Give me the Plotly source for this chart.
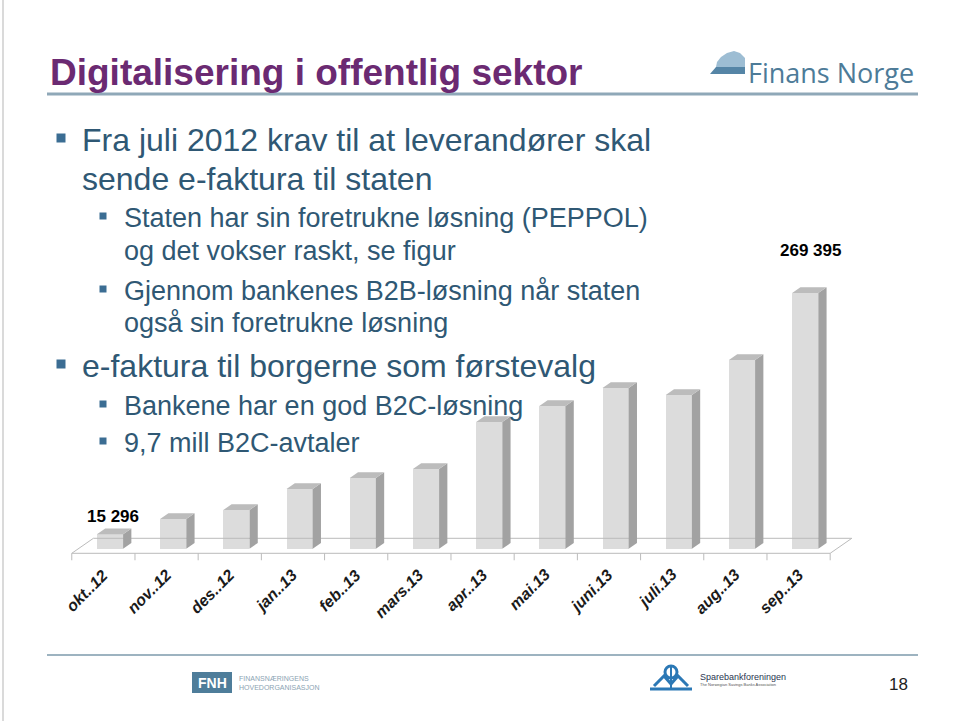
import plotly.graph_objects as go

# ---------------- data ----------------
months = ["okt..12", "nov..12", "des..12", "jan..13", "feb..13", "mars.13",
          "apr..13", "mai.13", "juni.13", "juli.13", "aug..13", "sep..13"]
invoices = [15296, 31300, 40800, 62900, 74500, 84000,
            133500, 150300, 169300, 161900, 198800, 269395]
labelled = {0: "15 296", 11: "269 395"}

title = "Digitalisering i offentlig sektor"
bullets = [
    # (level, lines)
    (1, ["Fra juli 2012 krav til at leverandører skal", "sende e-faktura til staten"]),
    (2, ["Staten har sin foretrukne løsning (PEPPOL)", "og det vokser raskt, se figur"]),
    (2, ["Gjennom bankenes B2B-løsning når staten", "også sin foretrukne løsning"]),
    (1, ["e-faktura til borgerne som førstevalg"]),
    (2, ["Bankene har en god B2C-løsning"]),
    (2, ["9,7 mill B2C-avtaler"]),
]

# ---------------- layout geometry (pixels) ----------------
W, H = 960, 721
L, R, T, B = 50, 870, 230, 570          # plot area
Y_MIN, Y_MAX = -22442, 335783
X_MIN, X_MAX = -0.9494, 12.025

def px(X):
    return (X - L) / (R - L)

def py(Y):
    return (B - Y) / (B - T)

# 3D styling
BAR_W = 0.414
DX, DY = 0.131, 6000           # bar depth
F_OFF = 0.105                   # floor front offset
F_DX, F_DY = 0.342, 15800       # floor depth
F_Y = -4850
TICK_Y = -12200
FRONT, SIDE, TOP = "#DCDCDC", "#A2A2A2", "#BCBCBC"
FLOOR = "#BBBBBB"

n = len(invoices)
fig = go.Figure()

# floor
fx0, fx1 = -0.5 - F_OFF, n - 0.5 - F_OFF
fig.add_trace(go.Scatter(
    x=[fx0, fx1, fx1 + F_DX, fx0 + F_DX, fx0],
    y=[F_Y, F_Y, F_Y + F_DY, F_Y + F_DY, F_Y],
    mode="lines", line=dict(color=FLOOR, width=1), hoverinfo="skip"))
# category ticks
tx, ty = [], []
for k in range(n + 1):
    tx += [fx0 + k, fx0 + k, None]
    ty += [F_Y, TICK_Y, None]
fig.add_trace(go.Scatter(x=tx, y=ty, mode="lines",
                         line=dict(color=FLOOR, width=1), hoverinfo="skip"))

# front faces
fig.add_trace(go.Bar(x=list(range(n)), y=invoices, width=BAR_W,
                     marker=dict(color=FRONT, line=dict(width=0))))

# side and top faces
sx, sy, qx, qy = [], [], [], []
for i, v in enumerate(invoices):
    r = i + BAR_W / 2
    l = i - BAR_W / 2
    sx += [r, r + DX, r + DX, r, r, None]
    sy += [0, DY, v + DY, v, 0, None]
    qx += [l, r, r + DX, l + DX, l, None]
    qy += [v, v, v + DY, v + DY, v, None]
fig.add_trace(go.Scatter(x=sx, y=sy, mode="lines", fill="toself", fillcolor=SIDE,
                         line=dict(width=0, color=SIDE), hoverinfo="skip"))
fig.add_trace(go.Scatter(x=qx, y=qy, mode="lines", fill="toself", fillcolor=TOP,
                         line=dict(width=0, color=TOP), hoverinfo="skip"))

ann = []
# data labels
shifts = {0: (3, 18), 11: (5, 43)}
for i, txt in labelled.items():
    xs, ys = shifts[i]
    ann.append(dict(x=i, y=invoices[i], xref="x", yref="y", text="<b>" + txt + "</b>",
                    showarrow=False, xshift=xs, yshift=ys,
                    xanchor="center", yanchor="middle",
                    font=dict(family="Arial, Liberation Sans", size=17, color="#000000")))
# category labels
for i, m in enumerate(months):
    ann.append(dict(x=i + 0.06, y=-15500, xref="x", yref="y", text=m,
                    showarrow=False, textangle=-45, xanchor="right", yanchor="top",
                    font=dict(family="Arial, Liberation Sans", size=16, color="#1a1a1a",
                              weight="bold", style="italic")))

def text(x, y, t, size, color, family="Arial, Liberation Sans", xanchor="left"):
    ann.append(dict(x=px(x), y=py(y), xref="paper", yref="paper", text=t,
                    showarrow=False, xanchor=xanchor, yanchor="middle",
                    font=dict(family=family, size=size, color=color)))

# title
text(48, 72, "<b>" + title + "</b>", 37, "#6B2A72")

# bullets
TXT = "#2F5874"
BUL = "#3B6D93"
line_y = [[140, 179], [218, 251], [291, 323], [366], [406], [443]]
shapes = []
for (lvl, lines), ys in zip(bullets, line_y):
    size = 32 if lvl == 1 else 27
    tx0 = 80 if lvl == 1 else 122
    bx = 61 if lvl == 1 else 103
    bs = 4.5 if lvl == 1 else 3.5
    by = ys[0] - 2
    shapes.append(dict(type="rect", xref="paper", yref="paper",
                       x0=px(bx - bs), x1=px(bx + bs), y0=py(by + bs), y1=py(by - bs),
                       fillcolor=BUL, line=dict(width=0)))
    for t, y in zip(lines, ys):
        text(tx0, y, t, size, TXT)

# rules
shapes.append(dict(type="line", xref="paper", yref="paper", x0=px(47), x1=px(918),
                   y0=py(94), y1=py(94), line=dict(color="#8FA8B8", width=3)))
shapes.append(dict(type="line", xref="paper", yref="paper", x0=px(47), x1=px(918),
                   y0=py(655), y1=py(655), line=dict(color="#9DB3C0", width=2)))
shapes.append(dict(type="line", xref="paper", yref="paper", x0=px(3), x1=px(3),
                   y0=py(0), y1=py(721), line=dict(color="#B5B5B5", width=1)))

def path(pts, close=True):
    s = "M " + " L ".join(f"{px(a):.5f},{py(b):.5f}" for a, b in pts)
    return s + (" Z" if close else "")

# Finans Norge logo
shapes.append(dict(type="path", xref="paper", yref="paper",
                   path=path([(716, 67), (717, 62), (721, 57), (727, 53), (734, 51),
                              (740, 53), (745, 58), (745, 67)]),
                   fillcolor="#9DBDD3", line=dict(width=0)))
shapes.append(dict(type="path", xref="paper", yref="paper",
                   path=path([(710, 74), (716, 67), (745, 67), (745, 74)]),
                   fillcolor="#5585A6", line=dict(width=0)))
text(746, 72, "Finans Norge", 27, "#4D7B98", family="Open Sans")

# FNH logo
shapes.append(dict(type="rect", xref="paper", yref="paper", x0=px(192), x1=px(232),
                   y0=py(693), y1=py(672), fillcolor="#4E7D9A", line=dict(width=0)))
text(212, 683, "<b>FNH</b>", 14, "white", xanchor="center")
text(237, 678, "FINANSNÆRINGENS", 7, "#8BA3B3")
text(237, 687, "HOVEDORGANISASJON", 7, "#8BA3B3")

# Sparebankforeningen logo
SB = "#2B78B5"
shapes.append(dict(type="line", xref="paper", yref="paper", x0=px(650), x1=px(692),
                   y0=py(689), y1=py(689), line=dict(color=SB, width=3)))
shapes.append(dict(type="path", xref="paper", yref="paper",
                   path=path([(654, 686), (664, 676), (671, 684), (678, 676), (688, 686)],
                             close=False),
                   line=dict(color=SB, width=3)))
shapes.append(dict(type="circle", xref="paper", yref="paper", x0=px(665), x1=px(677),
                   y0=py(678), y1=py(666), line=dict(color=SB, width=3)))
shapes.append(dict(type="line", xref="paper", yref="paper", x0=px(671), x1=px(671),
                   y0=py(667), y1=py(689), line=dict(color=SB, width=2)))
text(698, 677, "Sparebankforeningen", 9, "#2A3550")
text(698, 684, "The Norwegian Savings Banks Association", 4, "#555555")
# page number
text(898, 684, "18", 17, "#222222", xanchor="center")

fig.update_layout(
    width=W, height=H, autosize=False,
    margin=dict(l=L, r=W - R, t=T, b=H - B, pad=0),
    paper_bgcolor="white", plot_bgcolor="white",
    showlegend=False,
    xaxis=dict(range=[X_MIN, X_MAX], visible=False, fixedrange=True),
    yaxis=dict(range=[Y_MIN, Y_MAX], visible=False, fixedrange=True),
    annotations=ann, shapes=shapes, bargap=0,
)
fig.write_html("out.html", config={"displayModeBar": False},
               post_script="document.body.style.margin='0';document.body.style.overflow='hidden';")
